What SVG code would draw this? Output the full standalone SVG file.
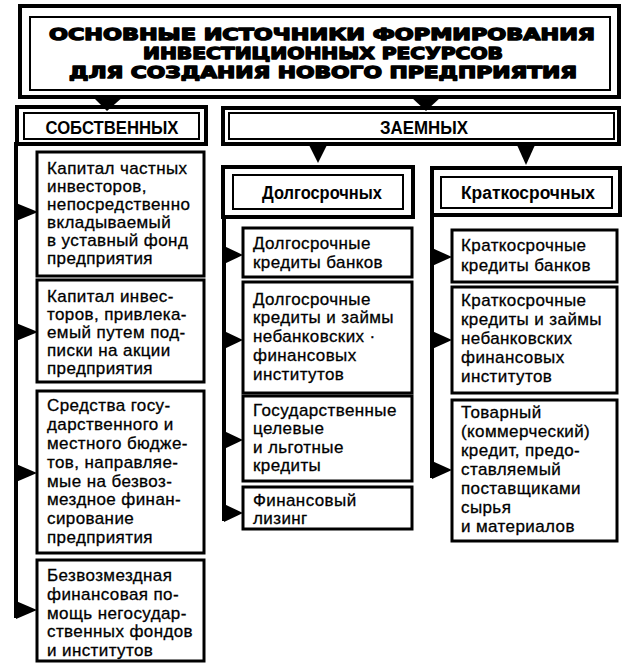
<svg xmlns="http://www.w3.org/2000/svg" width="643" height="672" viewBox="0 0 643 672">
<style>
.bg{fill:#fff}
.thick{fill:#fff;stroke:#000;stroke-width:4}
.thin{fill:none;stroke:#000;stroke-width:2}
.item{fill:#fff;stroke:#000;stroke-width:3}
.line{fill:none;stroke:#000;stroke-width:4}
.arr{fill:#000}
.title{font-family:"DejaVu Sans",sans-serif;font-weight:bold;font-size:16.5px;fill:#000;stroke:#000;stroke-width:1.4;stroke-linejoin:round;text-anchor:middle}
.hdr{font-family:"Liberation Sans",Arial,sans-serif;font-weight:bold;font-size:18px;fill:#000;text-anchor:middle}
.txt{font-family:"Liberation Sans",Arial,sans-serif;font-size:17px;letter-spacing:0.4px;fill:#000;stroke:#000;stroke-width:0.3}
</style>
<rect class="bg" x="0" y="0" width="643" height="672"/>

<g id="title">
<rect class="thick" x="20" y="6" width="599" height="91"/>
<rect class="thin" x="30" y="17" width="580" height="73"/>
<text class="title" x="322" y="40" textLength="546" lengthAdjust="spacingAndGlyphs">ОСНОВНЫЕ ИСТОЧНИКИ ФОРМИРОВАНИЯ</text>
<text class="title" x="323" y="59" textLength="360" lengthAdjust="spacingAndGlyphs">ИНВЕСТИЦИОННЫХ РЕСУРСОВ</text>
<text class="title" x="323" y="78" textLength="508" lengthAdjust="spacingAndGlyphs">ДЛЯ СОЗДАНИЯ НОВОГО ПРЕДПРИЯТИЯ</text>
</g>

<g id="own">
<rect class="thick" x="17" y="107" width="189" height="37"/>
<rect class="thin" x="24" y="113" width="175" height="26"/>
<text class="hdr" x="112" y="134" textLength="133" lengthAdjust="spacingAndGlyphs">СОБСТВЕННЫХ</text>
</g>

<g id="borrowed">
<rect class="thick" x="223" y="108" width="396" height="36"/>
<rect class="thin" x="229" y="113" width="385" height="26"/>
<text class="hdr" x="424" y="134" textLength="88" lengthAdjust="spacingAndGlyphs">ЗАЕМНЫХ</text>
</g>

<g id="long">
<rect class="thick" x="223" y="167" width="190" height="50"/>
<rect class="thin" x="233" y="175" width="170" height="34"/>
<text class="hdr" x="322" y="199" font-size="16" textLength="120" lengthAdjust="spacingAndGlyphs">Долгосрочных</text>
</g>

<g id="short">
<rect class="thick" x="432" y="168" width="188" height="47"/>
<rect class="thin" x="441" y="177" width="171" height="31"/>
<text class="hdr" x="528" y="199" font-size="16" textLength="134" lengthAdjust="spacingAndGlyphs">Краткосрочных</text>
</g>

<g id="connectors">
<polygon class="arr" points="92,96 124,96 107,111"/>
<polygon class="arr" points="410,96 442,96 426,111"/>
<polygon class="arr" points="309,145 327,145 318,163"/>
<polygon class="arr" points="517,145 535,145 526,165"/>
<path class="line" d="M16,142 V618"/>
<path class="line" d="M224,215 V521"/>
<path class="line" d="M432,213 V478"/>
<polygon class="arr" points="16,203 38,212 16,221"/>
<polygon class="arr" points="16,323 38,332 16,341"/>
<polygon class="arr" points="16,464 37,473 16,482"/>
<polygon class="arr" points="16,601 37,610 16,619"/>
<polygon class="arr" points="224,246 243,255 224,264"/>
<polygon class="arr" points="224,331 243,340 224,349"/>
<polygon class="arr" points="224,431 243,440 224,449"/>
<polygon class="arr" points="224,504 243,513 224,522"/>
<polygon class="arr" points="432,248 452,257 432,266"/>
<polygon class="arr" points="432,331 452,340 432,349"/>
<polygon class="arr" points="432,461 452,470 432,479"/>
</g>

<g id="own1">
<rect class="item" x="37" y="152" width="167" height="124"/>
<text class="txt" x="47" y="174">Капитал частных</text>
<text class="txt" x="47" y="192">инвесторов,</text>
<text class="txt" x="47" y="210">непосредственно</text>
<text class="txt" x="47" y="228">вкладываемый</text>
<text class="txt" x="47" y="246">в уставный фонд</text>
<text class="txt" x="47" y="264">предприятия</text>
</g>
<g id="own2">
<rect class="item" x="37" y="280" width="167" height="102"/>
<text class="txt" x="47" y="302">Капитал инвес-</text>
<text class="txt" x="47" y="320">торов, привлека-</text>
<text class="txt" x="47" y="338">емый путем под-</text>
<text class="txt" x="47" y="356">писки на акции</text>
<text class="txt" x="47" y="374">предприятия</text>
</g>
<g id="own3">
<rect class="item" x="37" y="391" width="167" height="162"/>
<text class="txt" x="47" y="411">Средства госу-</text>
<text class="txt" x="47" y="430">дарственного и</text>
<text class="txt" x="47" y="449">местного бюдже-</text>
<text class="txt" x="47" y="468">тов, направляе-</text>
<text class="txt" x="47" y="487">мые на безвоз-</text>
<text class="txt" x="47" y="505">мездное финан-</text>
<text class="txt" x="47" y="524">сирование</text>
<text class="txt" x="47" y="543">предприятия</text>
</g>
<g id="own4">
<rect class="item" x="37" y="560" width="167" height="101"/>
<text class="txt" x="47" y="581">Безвозмездная</text>
<text class="txt" x="47" y="600">финансовая по-</text>
<text class="txt" x="47" y="619">мощь негосудар-</text>
<text class="txt" x="47" y="637">ственных фондов</text>
<text class="txt" x="47" y="656">и институтов</text>
</g>

<g id="long1">
<rect class="item" x="243" y="228" width="169" height="49"/>
<text class="txt" x="253" y="249">Долгосрочные</text>
<text class="txt" x="253" y="268">кредиты банков</text>
</g>
<g id="long2">
<rect class="item" x="243" y="282" width="169" height="111"/>
<text class="txt" x="253" y="305">Долгосрочные</text>
<text class="txt" x="253" y="323">кредиты и займы</text>
<text class="txt" x="253" y="342">небанковских ·</text>
<text class="txt" x="253" y="361">финансовых</text>
<text class="txt" x="253" y="380">институтов</text>
</g>
<g id="long3">
<rect class="item" x="243" y="396" width="169" height="85"/>
<text class="txt" x="253" y="416">Государственные</text>
<text class="txt" x="253" y="434">целевые</text>
<text class="txt" x="253" y="453">и льготные</text>
<text class="txt" x="253" y="471">кредиты</text>
</g>
<g id="long4">
<rect class="item" x="243" y="487" width="169" height="42"/>
<text class="txt" x="253" y="506">Финансовый</text>
<text class="txt" x="253" y="524">лизинг</text>
</g>

<g id="short1">
<rect class="item" x="452" y="230" width="165" height="52"/>
<text class="txt" x="461" y="251">Краткосрочные</text>
<text class="txt" x="461" y="271">кредиты банков</text>
</g>
<g id="short2">
<rect class="item" x="452" y="287" width="165" height="106"/>
<text class="txt" x="461" y="306">Краткосрочные</text>
<text class="txt" x="461" y="325">кредиты и займы</text>
<text class="txt" x="461" y="344">небанковских</text>
<text class="txt" x="461" y="363">финансовых</text>
<text class="txt" x="461" y="382">институтов</text>
</g>
<g id="short3">
<rect class="item" x="452" y="400" width="165" height="141"/>
<text class="txt" x="461" y="418">Товарный</text>
<text class="txt" x="461" y="437">(коммерческий)</text>
<text class="txt" x="461" y="456">кредит, предо-</text>
<text class="txt" x="461" y="475">ставляемый</text>
<text class="txt" x="461" y="494">поставщиками</text>
<text class="txt" x="461" y="513">сырья</text>
<text class="txt" x="461" y="532">и материалов</text>
</g>
</svg>
